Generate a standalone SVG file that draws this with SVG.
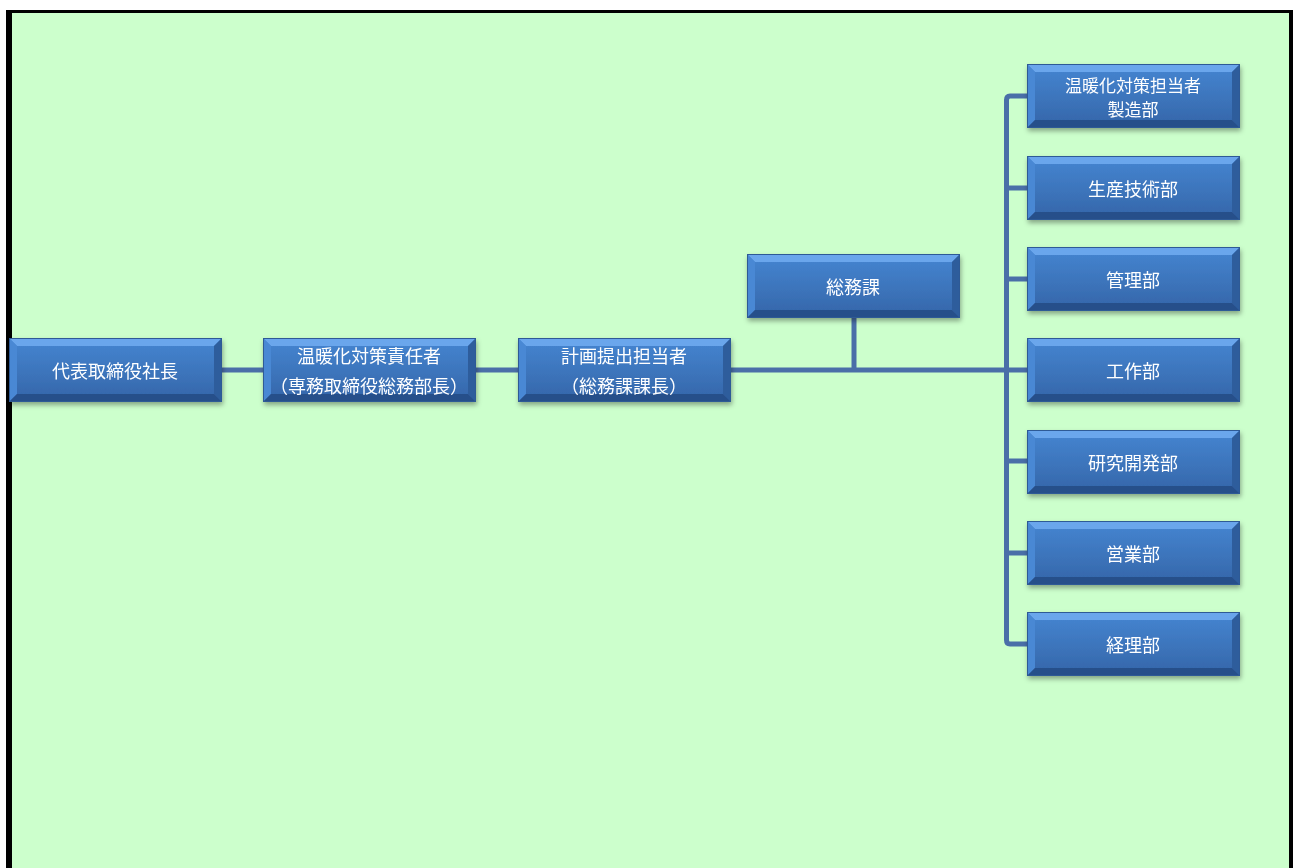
<svg xmlns="http://www.w3.org/2000/svg" width="1293" height="868" viewBox="0 0 1293 868">
<defs>
<linearGradient id="face" x1="0" y1="0" x2="0" y2="1">
<stop offset="0" stop-color="#4686d2"/>
<stop offset="1" stop-color="#3465a8"/>
</linearGradient>
<filter id="sh" x="-10%" y="-10%" width="130%" height="140%">
<feDropShadow dx="1" dy="3" stdDeviation="2.5" flood-color="#000" flood-opacity="0.35"/>
</filter>
<g id="box">
<rect x="0" y="0" width="213" height="64" fill="url(#face)"/>
<polygon points="0,0 213,0 205,8 8,8" fill="#6aa6ec"/>
<polygon points="0,0 8,8 8,56 0,64" fill="#4a88d4"/>
<polygon points="213,0 213,64 205,56 205,8" fill="#2f5d9c"/>
<polygon points="0,64 8,56 205,56 213,64" fill="#28508a"/>
<rect x="0.5" y="0.5" width="212" height="63" fill="none" stroke="#2d5a96" stroke-width="1"/>
</g>
</defs>
<style>
.t{font-family:"Noto Sans CJK JP","Noto Sans CJK SC",sans-serif;font-size:18px;fill:#ffffff;text-anchor:middle;dominant-baseline:central}
.s{font-size:17px}
.c{fill:none;stroke:#4a6fa8;stroke-width:5}
</style>
<rect x="0" y="0" width="1293" height="868" fill="#ffffff"/>
<rect x="6" y="10" width="1287" height="858" fill="#000000"/>
<rect x="12" y="13" width="1277" height="855" fill="#ccffcc"/>
<g id="connectors">
<line class="c" x1="220" y1="370" x2="265" y2="370"/>
<line class="c" x1="474" y1="370" x2="520" y2="370"/>
<line class="c" x1="729" y1="370" x2="1029" y2="370"/>
<line class="c" x1="854" y1="316" x2="854" y2="370"/>
<path class="c" d="M1029,96 H1010 Q1006.5,96 1006.5,100 V640 Q1006.5,644 1010,644 H1029"/>
<line class="c" x1="1006.5" y1="188" x2="1029" y2="188"/>
<line class="c" x1="1006.5" y1="279" x2="1029" y2="279"/>
<line class="c" x1="1006.5" y1="461" x2="1029" y2="461"/>
<line class="c" x1="1006.5" y1="553" x2="1029" y2="553"/>
</g>
<g id="n1" filter="url(#sh)"><use href="#box" x="9" y="338"/><text class="t" x="115" y="370">代表取締役社長</text></g>
<g id="n2" filter="url(#sh)"><use href="#box" x="263" y="338"/><text class="t" x="369" y="355">温暖化対策責任者</text><text class="t" x="369" y="385">（専務取締役総務部長）</text></g>
<g id="n3" filter="url(#sh)"><use href="#box" x="518" y="338"/><text class="t" x="624" y="355">計画提出担当者</text><text class="t" x="624" y="385">（総務課課長）</text></g>
<g id="n4" filter="url(#sh)"><use href="#box" x="747" y="254"/><text class="t" x="853" y="286">総務課</text></g>
<g id="n5" filter="url(#sh)"><use href="#box" x="1027" y="64"/><text class="t s" x="1133" y="84">温暖化対策担当者</text><text class="t s" x="1133" y="108">製造部</text></g>
<g id="n6" filter="url(#sh)"><use href="#box" x="1027" y="156"/><text class="t" x="1133" y="188">生産技術部</text></g>
<g id="n7" filter="url(#sh)"><use href="#box" x="1027" y="247"/><text class="t" x="1133" y="279">管理部</text></g>
<g id="n8" filter="url(#sh)"><use href="#box" x="1027" y="338"/><text class="t" x="1133" y="370">工作部</text></g>
<g id="n9" filter="url(#sh)"><use href="#box" x="1027" y="430"/><text class="t" x="1133" y="462">研究開発部</text></g>
<g id="n10" filter="url(#sh)"><use href="#box" x="1027" y="521"/><text class="t" x="1133" y="553">営業部</text></g>
<g id="n11" filter="url(#sh)"><use href="#box" x="1027" y="612"/><text class="t" x="1133" y="644">経理部</text></g>
</svg>
